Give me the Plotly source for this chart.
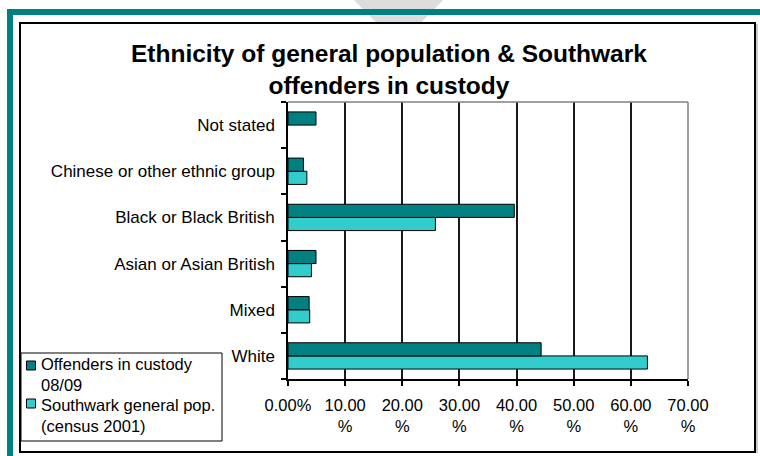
import plotly.graph_objects as go

# Ethnic groups, bottom to top as they appear on the category axis
categories = [
    "White",
    "Mixed",
    "Asian or Asian British",
    "Black or Black British",
    "Chinese or other ethnic group",
    "Not stated",
]
offenders_pct = [44.3, 3.7, 4.9, 39.6, 2.7, 4.9]
southwark_pct = [62.9, 3.8, 4.1, 25.8, 3.3, None]

offenders_name = ["Offenders in custody", "08/09"]
southwark_name = ["Southwark general pop.", "(census 2001)"]

x_tick_vals = [0, 10, 20, 30, 40, 50, 60, 70]
x_tick_text = ["0.00%", "10.00<br>%", "20.00<br>%", "30.00<br>%", "40.00<br>%",
               "50.00<br>%", "60.00<br>%", "70.00<br>%"]

TEAL = "#008080"
AQUA = "#33CCCC"
FONT = "Liberation Sans, Arial, sans-serif"

W, H = 760, 456
ML, MR, MT, MB = 288, 72, 102, 77
PW, PH = W - ML - MR, H - MT - MB


def px_x(px):
    return (px - ML) / PW


def px_y(py):
    return (H - MB - py) / PH


fig = go.Figure()
# southwark first so it sits below the offenders bar within each group
fig.add_trace(go.Bar(
    y=categories, x=southwark_pct, orientation="h", name=" ".join(southwark_name),
    marker=dict(color=AQUA, line=dict(color="#000000", width=1)),
    showlegend=False,
))
fig.add_trace(go.Bar(
    y=categories, x=offenders_pct, orientation="h", name=" ".join(offenders_name),
    marker=dict(color=TEAL, line=dict(color="#000000", width=1)),
    showlegend=False,
))

shapes = []
# grey wedge at the very top
shapes.append(dict(
    type="path", xref="paper", yref="paper", layer="below",
    path=(f"M {px_x(354)},{px_y(0)} L {px_x(443)},{px_y(0)} "
          f"L {px_x(421.7)},{px_y(22)} L {px_x(375.7)},{px_y(22)} Z"),
    fillcolor="#DCDCDC", line=dict(width=0),
))
# teal page border (top and left)
shapes.append(dict(type="rect", xref="paper", yref="paper", layer="below",
                   x0=px_x(7), x1=px_x(760), y0=px_y(9), y1=px_y(15),
                   fillcolor=TEAL, line=dict(width=0)))
shapes.append(dict(type="rect", xref="paper", yref="paper", layer="below",
                   x0=px_x(7), x1=px_x(13), y0=px_y(9), y1=px_y(456),
                   fillcolor=TEAL, line=dict(width=0)))
# chart frame
shapes.append(dict(type="rect", xref="paper", yref="paper", layer="below",
                   x0=px_x(20), x1=px_x(755), y0=px_y(23), y1=px_y(452),
                   fillcolor="#FFFFFF", line=dict(color="#000000", width=2)))
shapes.append(dict(type="line", xref="paper", yref="paper", layer="below",
                   x0=px_x(757), x1=px_x(757), y0=px_y(24), y1=px_y(453),
                   line=dict(color="#9A9A9A", width=1)))
# plot area border on the top and right
shapes.append(dict(type="line", xref="paper", yref="paper", layer="above",
                   x0=0, x1=1, y0=1, y1=1, line=dict(color="#808080", width=1.5)))
shapes.append(dict(type="line", xref="paper", yref="paper", layer="above",
                   x0=1, x1=1, y0=0, y1=1, line=dict(color="#808080", width=1.5)))

# legend box
shapes.append(dict(type="rect", xref="paper", yref="paper", layer="above",
                   x0=px_x(21), x1=px_x(222), y0=px_y(353), y1=px_y(441),
                   fillcolor="#FFFFFF", line=dict(color="#000000", width=1)))
legend_items = [(offenders_name, TEAL, 361, [364, 385]),
                (southwark_name, AQUA, 399, [405, 426])]
annotations = []
for lines, color, top, centers in legend_items:
    shapes.append(dict(type="rect", xref="paper", yref="paper", layer="above",
                       x0=px_x(26.5), x1=px_x(35.5), y0=px_y(top), y1=px_y(top + 9),
                       fillcolor=color, line=dict(color="#000000", width=1)))
    for line, cy in zip(lines, centers):
        annotations.append(dict(
            text=line, xref="paper", yref="paper", x=px_x(40), y=px_y(cy),
            xanchor="left", yanchor="middle", align="left", showarrow=False,
            borderpad=0, font=dict(family=FONT, size=16.5, color="#000000"),
        ))

annotations.append(dict(
    text="<b>Ethnicity of general population & Southwark<br>offenders in custody</b>",
    xref="paper", yref="paper", x=px_x(389), y=px_y(70),
    xanchor="center", yanchor="middle", align="center", showarrow=False,
    font=dict(family=FONT, size=24.5, color="#000000"),
))

fig.update_layout(
    width=W, height=H,
    margin=dict(l=ML, r=MR, t=MT, b=MB, pad=0),
    paper_bgcolor="#FFFFFF", plot_bgcolor="#FFFFFF",
    barmode="group", bargap=0.43, bargroupgap=0,
    shapes=shapes, annotations=annotations,
    showlegend=False,
    font=dict(family=FONT, size=17, color="#000000"),
)
fig.update_xaxes(
    range=[0, 70], tickvals=x_tick_vals, ticktext=x_tick_text,
    showgrid=True, gridcolor="#1A1A1A", gridwidth=1.5,
    showline=True, linecolor="#000000", linewidth=1.5,
    ticks="outside", ticklen=5, tickcolor="#000000", tickwidth=1.5,
    ticklabelstandoff=5,
    tickfont=dict(family=FONT, size=16.5, color="#000000"),
    zeroline=False, fixedrange=True,
)
fig.update_yaxes(
    type="category", categoryorder="array", categoryarray=categories,
    showgrid=False, showline=True, linecolor="#000000", linewidth=1.5,
    ticks="outside", ticklen=5, tickcolor="#000000", tickwidth=1.5,
    tickson="boundaries", ticklabelstandoff=8,
    tickfont=dict(family=FONT, size=17, color="#000000"),
    zeroline=False, fixedrange=True,
)

fig.write_html("out.html", config={"displayModeBar": False})
